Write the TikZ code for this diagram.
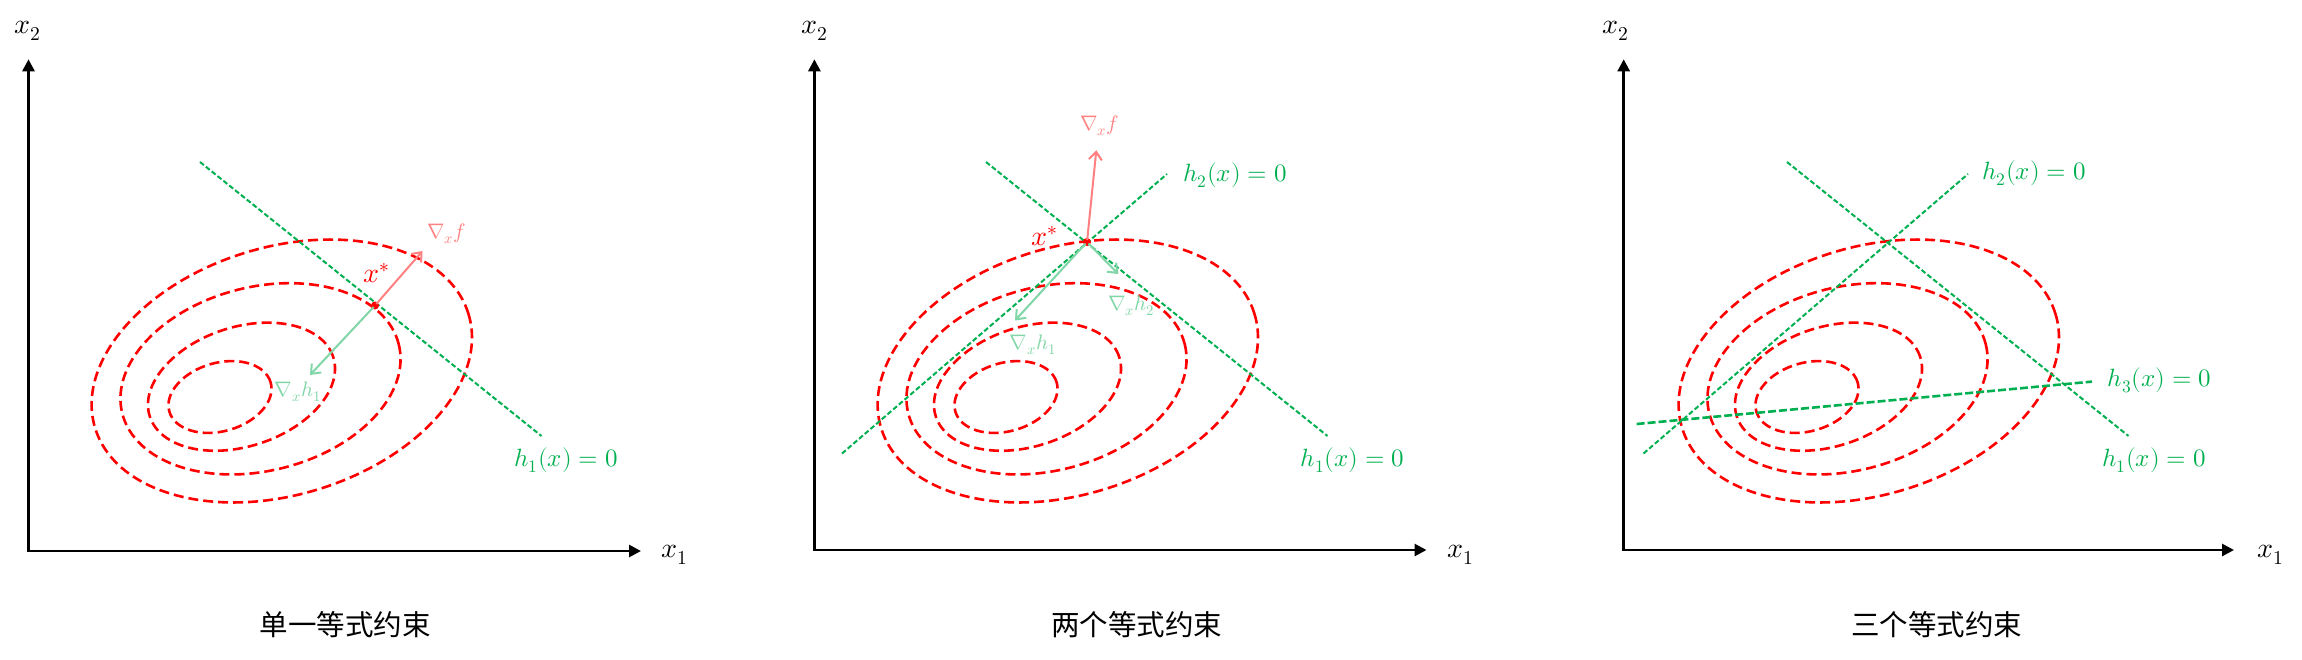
\documentclass[tikz,border=0pt]{standalone}
\usepackage{fontspec}
\usepackage{unicode-math}
\setmathfont{Latin Modern Math}
\newfontfamily\cjk{Noto Sans CJK SC}
\usetikzlibrary{arrows.meta}
\definecolor{cred}{HTML}{FF0000}
\definecolor{cgreen}{HTML}{00B050}
\definecolor{lred}{HTML}{FF8080}
\definecolor{lgreen}{HTML}{80D6A6}
\tikzset{
  axis/.style={line width=2.7pt, {Triangle[length=12pt,width=12pt]}-{Triangle[length=12pt,width=12pt]}},
  contour/.style={cred, line width=2.6pt, dash pattern=on 10pt off 5pt},
  hline/.style={cgreen, line width=2pt, dash pattern=on 5pt off 2.5pt},
  hlinethree/.style={cgreen, line width=2.6pt, dash pattern=on 8pt off 3pt},
  gradf/.style={lred, line width=2pt, -{Straight Barb[length=8pt,width=13pt]}, shorten <=2pt},
  gradh/.style={lgreen, line width=2pt, -{Straight Barb[length=8pt,width=13pt]}, shorten <=2pt},
  axlabel/.style={inner sep=0pt, font=\fontsize{28}{30}\selectfont},
  hlabel/.style={inner sep=0pt, text=cgreen, font=\fontsize{25}{28}\selectfont},
  glabel/.style={inner sep=0pt, text=lgreen, font=\fontsize{21}{24}\selectfont},
  flabel/.style={inner sep=0pt, text=lred, font=\fontsize{21}{24}\selectfont},
  xslabel/.style={inner sep=0pt, text=cred, font=\fontsize{28}{30}\selectfont},
  dot/.style={circle, fill=cred, inner sep=0pt, minimum size=8pt},
  caption/.style={inner sep=0pt, font=\cjk\fontsize{28.5}{32}\selectfont},
  contours/.pic={
    \draw[contour, rotate around={16:(220,397)}] (220,397) ellipse [x radius=52.7pt, y radius=34.2pt];
    \draw[contour, rotate around={18:(241.5,386.7)}] (241.5,386.7) ellipse [x radius=96.4pt, y radius=59.6pt];
    \draw[contour, rotate around={14:(260.5,378.8)}] (260.5,378.8) ellipse [x radius=142.5pt, y radius=91.9pt];
    \draw[contour, rotate around={17:(281.8,371)}] (281.8,371) ellipse [x radius=195.2pt, y radius=123.8pt];
  }
}
\begin{document}
\begin{tikzpicture}[x=1pt,y=-1pt]
\fill[white] (0,0) rectangle (2302,659);
\useasboundingbox (0,0) rectangle (2302,659);

% ---------- contours ----------
\pic at (0,0) {contours};
\pic at (786,0) {contours};
\pic at (1587,0) {contours};

% ---------- axes ----------
\coordinate (Y1) at (28.5,59.3);  \coordinate (O1) at (28.5,551);  \coordinate (X1) at (641,551);
\coordinate (Y2) at (814.4,59.3); \coordinate (O2) at (814.4,550); \coordinate (X2) at (1426.5,550);
\coordinate (Y3) at (1623.7,59.3);\coordinate (O3) at (1623.7,550);\coordinate (X3) at (2234,550);
\draw[axis] (Y1) -- (O1) -- (X1);
\draw[axis] (Y2) -- (O2) -- (X2);
\draw[axis] (Y3) -- (O3) -- (X3);
\node[axlabel] (lx21) at (28,31) {$x_2$};
\node[axlabel] (lx11) at (674.5,555) {$x_1$};
\node[axlabel] (lx22) at (815,31) {$x_2$};
\node[axlabel] (lx12) at (1461,555) {$x_1$};
\node[axlabel] (lx23) at (1615.6,31) {$x_2$};
\node[axlabel] (lx13) at (2271,555) {$x_1$};

% ---------- constraint lines ----------
\coordinate (h1a1) at (200,162);   \coordinate (h1b1) at (541.5,436);
\coordinate (h1a2) at (986,162);   \coordinate (h1b2) at (1327.5,436);
\coordinate (h2a2) at (842,453.5); \coordinate (h2b2) at (1167,174);
\coordinate (h1a3) at (1787,162);  \coordinate (h1b3) at (2128.5,436);
\coordinate (h2a3) at (1643.5,453.5); \coordinate (h2b3) at (1968,174);
\coordinate (h3a3) at (1636.6,424); \coordinate (h3b3) at (2092,381.6);
\draw[hline] (h1a1) -- (h1b1);
\draw[hline] (h1a2) -- (h1b2);
\draw[hline] (h2a2) -- (h2b2);
\draw[hline] (h1a3) -- (h1b3);
\draw[hline] (h2a3) -- (h2b3);
\draw[hlinethree] (h3a3) -- (h3b3);

% ---------- panel 1 ----------
\node[dot] (xs1) at (375,305.5) {};
\coordinate (f1) at (422.5,251);
\coordinate (g11) at (310,375);
\draw[gradf] (xs1.center) -- (f1);
\draw[gradh] (xs1.center) -- (g11);
\node[xslabel] (lxs1) at (377,273) {$x^{*}$};
\node[flabel] (lf1) at (446.5,233.5) {$\nabla_{x} f$};
\node[glabel] (lg11) at (298,392) {$\nabla_{x} h_1$};
\node[hlabel] (lh11) at (566,460) {$h_1(x) = 0$};

% ---------- panel 2 ----------
\node[dot] (xs2) at (1087,242) {};
\coordinate (f2) at (1096.3,150.2);
\coordinate (g12) at (1015,320.5);
\coordinate (g22) at (1118.3,274);
\draw[gradf] (xs2.center) -- (f2);
\draw[gradh] (xs2.center) -- (g12);
\draw[gradh] (xs2.center) -- (g22);
\node[xslabel] (lxs2) at (1045,236) {$x^{*}$};
\node[flabel] (lf2) at (1099.7,126) {$\nabla_{x} f$};
\node[glabel] (lg22) at (1131.5,306) {$\nabla_{x} h_2$};
\node[glabel] (lg12) at (1033,345) {$\nabla_{x} h_1$};
\node[hlabel] (lh22) at (1235,175) {$h_2(x) = 0$};
\node[hlabel] (lh12) at (1352.5,460) {$h_1(x) = 0$};

% ---------- panel 3 ----------
\node[hlabel] (lh23) at (2034,173) {$h_2(x) = 0$};
\node[hlabel] (lh33) at (2159.5,380) {$h_3(x) = 0$};
\node[hlabel] (lh13) at (2154,460) {$h_1(x) = 0$};

% ---------- captions ----------
\node[caption] (c1) at (345,625) {单一等式约束};
\node[caption] (c2) at (1136.7,625) {两个等式约束};
\node[caption] (c3) at (1936.7,625) {三个等式约束};
\end{tikzpicture}
\end{document}
